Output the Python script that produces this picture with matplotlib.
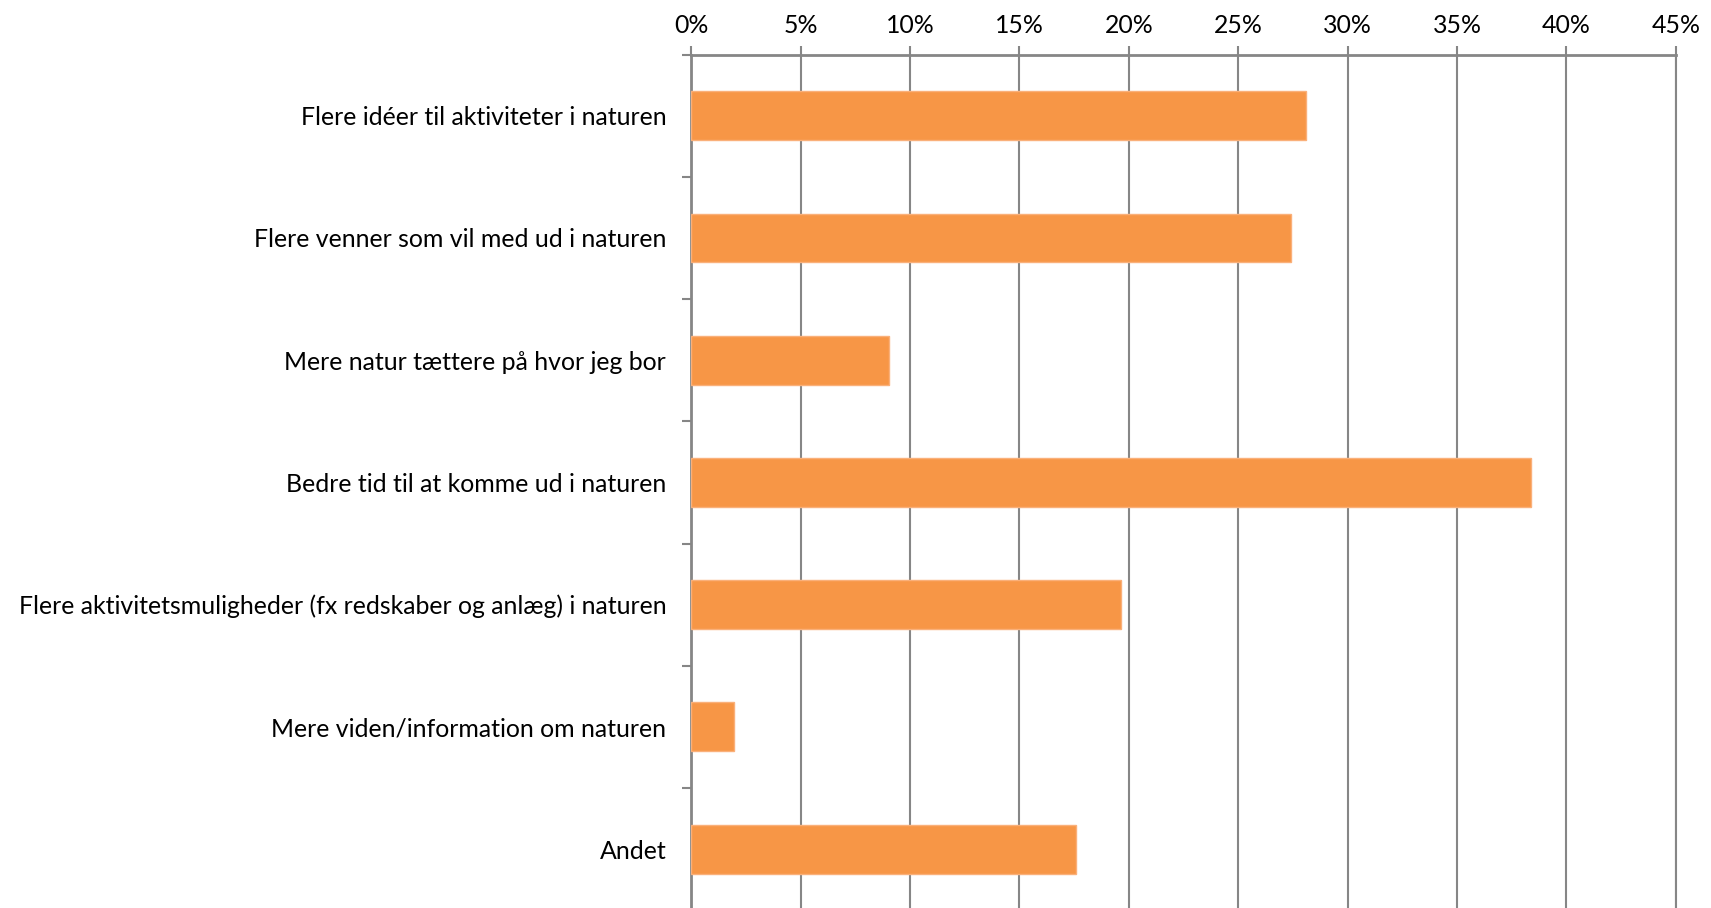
import numpy as np
import matplotlib
matplotlib.use("Agg")
import matplotlib.pyplot as plt
from matplotlib.ticker import FuncFormatter

# Data (share of respondents, %)
categories = [
    "Flere idéer til aktiviteter i naturen",
    "Flere venner som vil med ud i naturen",
    "Mere natur tættere på hvor jeg bor",
    "Bedre tid til at komme ud i naturen",
    "Flere aktivitetsmuligheder (fx redskaber og anlæg) i naturen",
    "Mere viden/information om naturen",
    "Andet",
]
values = [28.1, 27.4, 9.05, 38.4, 19.65, 1.95, 17.6]
x_ticks = [0, 5, 10, 15, 20, 25, 30, 35, 40, 45]

plt.rcParams['font.family'] = ['Lato', 'DejaVu Sans']
grey = "#868686"

fig = plt.figure(figsize=(17.11, 9.08), dpi=100)
ax = fig.add_axes([0.4040, -0.0024, 0.5754, 0.9422])

y = np.arange(len(categories))
ax.barh(y, values, height=0.4, color="#F79646", edgecolor="#FAB07A",
        linewidth=1.0, zorder=3)

ax.set_xlim(0, 45)
ax.set_ylim(len(categories) - 0.5, -0.5)

# x axis on top, with vertical gridlines
ax.xaxis.tick_top()
ax.set_xticks(x_ticks)
ax.xaxis.set_major_formatter(FuncFormatter(lambda v, p: f"{v:.0f}%"))
ax.tick_params(axis="x", which="major", length=6.5, width=1.5, color=grey,
               labelsize=17.9, pad=6.5, labelcolor="black")
ax.grid(axis="x", color=grey, linewidth=1.5, zorder=0)

# y axis: labels centred on bars, tick marks between categories
ax.set_yticks(y)
ax.set_yticklabels(categories)
ax.set_yticks(np.arange(-0.5, len(categories) + 0.5, 1), minor=True)
ax.tick_params(axis="y", which="major", length=0, labelsize=17.9, pad=18,
               labelcolor="black")
ax.tick_params(axis="y", which="minor", length=6.5, width=1.5, color=grey)

ax.spines["bottom"].set_visible(False)
ax.spines["right"].set_color(grey)
ax.spines["right"].set_linewidth(1.5)
for side in ["left", "top"]:
    ax.spines[side].set_color(grey)
    ax.spines[side].set_linewidth(2.0)

fig.savefig("out.png", dpi=100, facecolor="white")
